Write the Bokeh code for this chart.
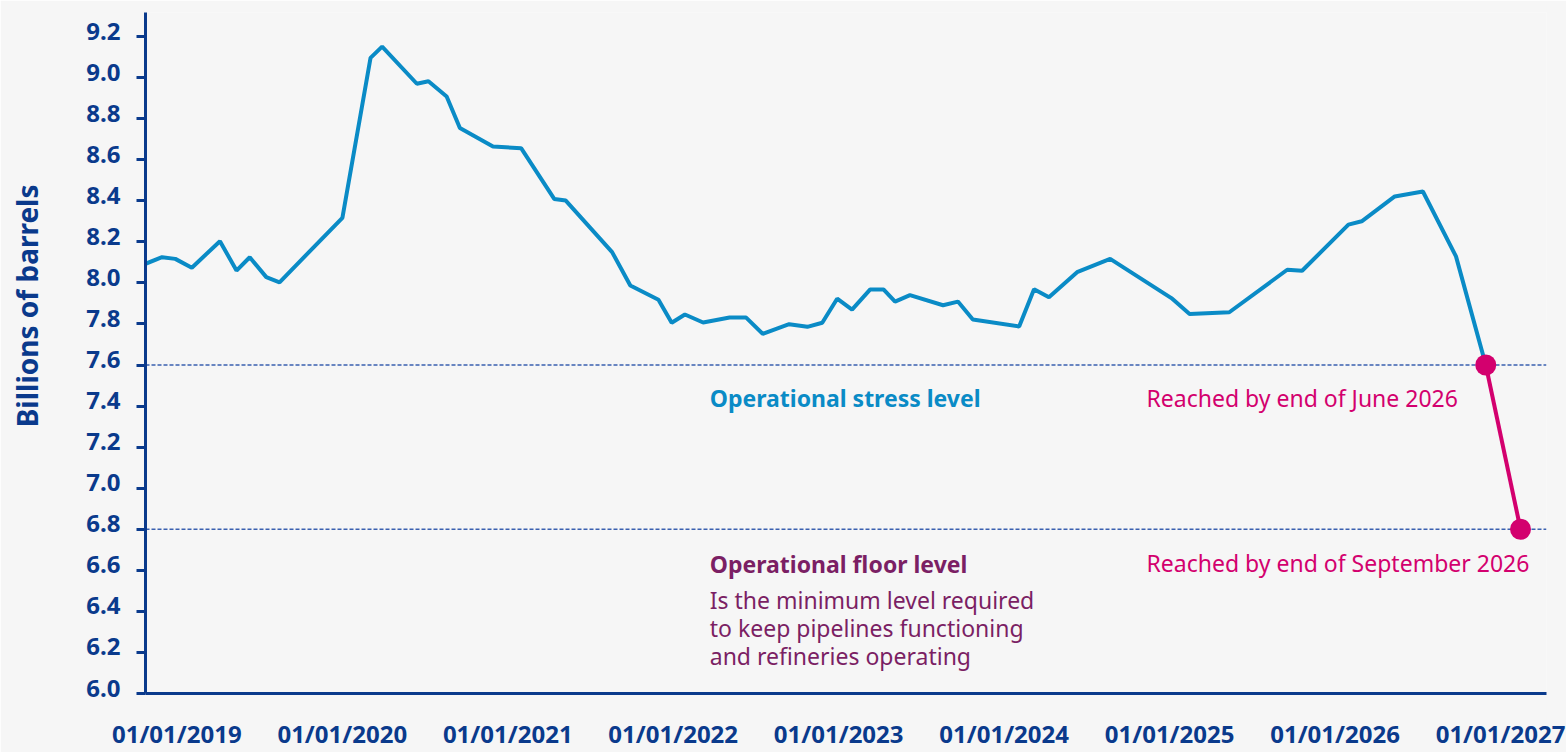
import numpy as np
from bokeh.plotting import figure
from bokeh.models import (Range1d, Span, Label, Title, LinearAxis,
                          SingleIntervalTicker, FixedTicker, PrintfTickFormatter)
from bokeh.embed import file_html
from bokeh.resources import INLINE

# ---------------- data ----------------
years = [2018.43, 2018.53, 2018.61, 2018.71, 2018.88, 2018.98,
         2019.06, 2019.16, 2019.24, 2019.62, 2019.79, 2019.86,
         2020.07, 2020.14, 2020.25, 2020.33, 2020.53, 2020.70, 2020.90, 2020.97,
         2021.25, 2021.36, 2021.53, 2021.61, 2021.69, 2021.80, 2021.96,
         2022.06, 2022.16, 2022.32, 2022.43, 2022.52, 2022.61, 2022.70, 2022.81, 2022.89, 2022.96,
         2023.05, 2023.25, 2023.34, 2023.43, 2023.71, 2023.80, 2023.89,
         2024.06, 2024.26, 2024.63, 2024.74, 2024.98,
         2025.33, 2025.42, 2025.70, 2025.78, 2025.98,
         2026.15, 2026.35, 2026.53]
stocks = [8.093, 8.125, 8.117, 8.074, 8.203, 8.060,
          8.125, 8.028, 8.003, 8.317, 9.096, 9.151,
          8.970, 8.982, 8.908, 8.754, 8.664, 8.656, 8.409, 8.401,
          8.150, 7.987, 7.918, 7.806, 7.846, 7.807, 7.831,
          7.831, 7.752, 7.799, 7.786, 7.806, 7.923, 7.870, 7.968, 7.968, 7.909,
          7.940, 7.891, 7.909, 7.822, 7.788, 7.969, 7.930,
          8.052, 8.117, 7.926, 7.849, 7.857,
          8.064, 8.059, 8.284, 8.300, 8.421,
          8.445, 8.129, 7.600]

projection_years = [2026.53, 2026.74]
projection_values = [7.6, 6.8]

stress_level = 7.6
floor_level = 6.8

tick_years = [2019, 2020, 2021, 2022, 2023, 2024, 2025, 2026, 2027]
tick_labels = ["01/01/2019", "01/01/2020", "01/01/2021", "01/01/2022", "01/01/2023",
               "01/01/2024", "01/01/2025", "01/01/2026", "01/01/2027"]

y_title = "Billions of barrels"
stress_title = "Operational stress level"
floor_title = "Operational floor level"
floor_note = ["Is the minimum level required",
              "to keep pipelines functioning",
              "and refineries operating"]
stress_reached = "Reached by end of June 2026"
floor_reached = "Reached by end of September 2026"

# ---------------- style ----------------
NAVY = "#0a3a8c"
BLUE = "#0a8bc6"
MAGENTA = "#d3006e"
PURPLE = "#7b1f64"
DASH = "#3a60b0"
BG = "#f6f6f6"
FONT = "Noto Sans"

W, H = 1566, 752
BORDER_L, BORDER_R, BORDER_T, BORDER_B = 145, 20, 12, 59
X_START, X_END = 2018.43, 2026.897
Y_START, Y_END = 6.0, 9.317

px_per_year = (W - BORDER_L - BORDER_R) / (X_END - X_START)
px_per_unit = (H - BORDER_T - BORDER_B) / (Y_END - Y_START)
x_label_shift = 63 / px_per_year    # date labels end at their date
y_label_shift = 5.5 / px_per_unit   # value labels sit slightly above their ticks

p = figure(width=W, height=H, output_backend="svg", toolbar_location=None,
           title=None, x_axis_location=None,
           x_range=Range1d(X_START, X_END), y_range=Range1d(Y_START, Y_END),
           min_border_left=BORDER_L, min_border_right=BORDER_R,
           min_border_top=BORDER_T, min_border_bottom=BORDER_B,
           background_fill_color=BG, border_fill_color=BG)
p.outline_line_color = None
p.grid.visible = False

# x axis with date labels
p.extra_x_ranges = {"labels": Range1d(X_START + x_label_shift, X_END + x_label_shift)}
xaxis = LinearAxis(x_range_name="labels", ticker=FixedTicker(ticks=tick_years),
                   major_label_overrides=dict(zip(tick_years, tick_labels)),
                   axis_line_color=NAVY, axis_line_width=3,
                   major_tick_line_color=None, minor_tick_line_color=None,
                   major_tick_out=0, major_tick_in=0,
                   major_label_standoff=23,
                   major_label_text_font=FONT, major_label_text_font_style="bold",
                   major_label_text_font_size="24px", major_label_text_color=NAVY)
p.add_layout(xaxis, "below")

# y axis: line and ticks (its own labels are not drawn)
p.yaxis.ticker = SingleIntervalTicker(interval=0.2, num_minor_ticks=0)
p.yaxis.axis_line_color = NAVY
p.yaxis.axis_line_width = 3
p.yaxis.major_tick_line_color = NAVY
p.yaxis.major_tick_line_width = 3
p.yaxis.major_tick_out = 9
p.yaxis.major_tick_in = 0
p.yaxis.minor_tick_line_color = None
p.yaxis.major_label_text_color = None
p.yaxis.major_label_standoff = 0

# y axis: value labels
p.extra_y_ranges = {"ylabels": Range1d(Y_START - y_label_shift, Y_END - y_label_shift)}
ylab = LinearAxis(y_range_name="ylabels",
                  ticker=SingleIntervalTicker(interval=0.2, num_minor_ticks=0),
                  formatter=PrintfTickFormatter(format="%.1f"),
                  axis_line_color=None, major_tick_line_color=None,
                  minor_tick_line_color=None, major_tick_out=0, major_tick_in=0,
                  major_label_standoff=16,
                  major_label_text_font=FONT, major_label_text_font_style="bold",
                  major_label_text_font_size="24px", major_label_text_color=NAVY)
p.add_layout(ylab, "left")

# blank spacer between value labels and the title (tick drawn in background colour)
spacer = LinearAxis(y_range_name="ylabels", ticker=FixedTicker(ticks=[Y_START]),
                    axis_line_color=None, major_tick_line_color=BG,
                    minor_tick_line_color=None, major_tick_out=38, major_tick_in=0,
                    major_label_text_color=None, major_label_standoff=0)
p.add_layout(spacer, "left")

# y title (upper part of the left side)
p.add_layout(Title(text=y_title, align="right", offset=172, standoff=0,
                   text_font=FONT, text_font_style="bold", text_font_size="28px",
                   text_color=NAVY), "left")

# threshold lines
for lvl in (stress_level, floor_level):
    p.add_layout(Span(location=lvl, dimension="width", line_color=DASH,
                      line_width=1.7, line_dash="4 2", level="underlay"))

# series
p.line(years, stocks, line_color=BLUE, line_width=4)
p.line(projection_years, projection_values, line_color=MAGENTA, line_width=4)
p.scatter(projection_years, projection_values, size=21, fill_color=MAGENTA,
          line_color=None)

# annotations
TEXT_X = 2021.84
REACH_X = 2024.48
p.add_layout(Label(x=TEXT_X, y=stress_level, y_offset=-33, text=stress_title,
                   text_font=FONT, text_font_style="bold", text_font_size="23px",
                   text_color=BLUE, text_baseline="alphabetic"))
p.add_layout(Label(x=TEXT_X, y=floor_level, y_offset=-35, text=floor_title,
                   text_font=FONT, text_font_style="bold", text_font_size="23px",
                   text_color=PURPLE, text_baseline="alphabetic"))
for i, line in enumerate(floor_note):
    p.add_layout(Label(x=TEXT_X, y=floor_level, y_offset=-71 - 28 * i, text=line,
                       text_font=FONT, text_font_size="23px",
                       text_color=PURPLE, text_baseline="alphabetic"))
p.add_layout(Label(x=REACH_X, y=stress_level, y_offset=-33, text=stress_reached,
                   text_font=FONT, text_font_size="23px",
                   text_color=MAGENTA, text_baseline="alphabetic"))
p.add_layout(Label(x=REACH_X, y=floor_level, y_offset=-34, text=floor_reached,
                   text_font=FONT, text_font_size="23px",
                   text_color=MAGENTA, text_baseline="alphabetic"))

open("out.html", "w").write(file_html(p, INLINE))
